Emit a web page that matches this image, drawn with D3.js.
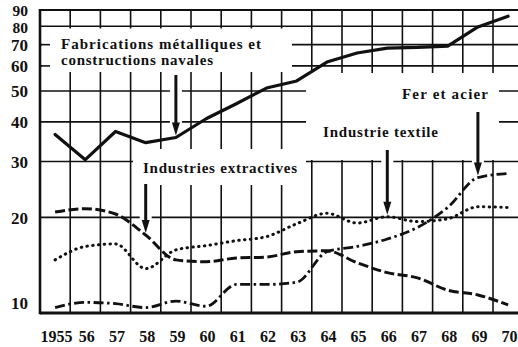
<!DOCTYPE html>
<html>
<head>
<meta charset="utf-8">
<script src="https://cdn.jsdelivr.net/npm/d3@7"></script>
<style>
  html, body { margin: 0; padding: 0; background: #fff; }
  svg { display: block; }
  text { font-family: "Liberation Serif", "DejaVu Serif", serif; font-weight: bold; fill: #111; }
</style>
</head>
<body>
<svg id="chart" width="518" height="347"></svg>
<script>
// Indices de production par branche, 1955-1970 (échelle logarithmique)
const years = d3.range(1955, 1971);
const yearLabels = ["1955", "56", "57", "58", "59", "60", "61", "62", "63", "64", "65", "66", "67", "68", "69", "70"];
const yTicks = [10, 20, 30, 40, 50, 60, 70, 80, 90];

const fabrications = [36.5, 30.4, 37.3, 34.4, 35.7, 40.9, 45.6, 51.1, 53.8, 61.7, 65.9, 68.3, 68.6, 69.3, 79.6, 86.0];
const extractives  = [20.8, 21.3, 20.5, 17.6, 14.7, 14.5, 14.9, 15.0, 15.6, 15.7, 14.4, 13.4, 12.9, 11.8, 11.4, 10.6];
const textile      = [14.7, 16.2, 16.5, 13.8, 15.8, 16.3, 16.9, 17.4, 19.1, 20.6, 19.2, 20.1, 19.4, 19.8, 21.6, 21.5];
const ferAcier     = [10.4, 10.8, 10.7, 10.4, 10.9, 10.5, 12.3, 12.3, 12.5, 15.6, 16.2, 17.1, 18.6, 21.5, 26.7, 27.5];

const svg = d3.select("#chart");
const W = 518;
const plotLeft = 40, plotRight = 523.2, plotTop = 10, plotBottom = 313;

const x = d3.scaleBand().domain(years).range([plotLeft, plotRight]).padding(0);
const cx = yr => x(yr) + x.bandwidth() / 2;
const y = d3.scaleLog().domain([10, 90]).range([plotBottom, plotTop]);

// ---- grid ----
const grid = svg.append("g").attr("stroke", "#111").attr("stroke-width", 1.6);
grid.selectAll("line.v").data(years.slice(1)).join("line")
  .attr("class", "v")
  .attr("x1", d => x(d)).attr("x2", d => x(d))
  .attr("y1", y(90)).attr("y2", y(10));
grid.selectAll("line.h").data(yTicks.filter(v => v > 10 && v < 90)).join("line")
  .attr("class", "h")
  .attr("x1", plotLeft).attr("x2", W)
  .attr("y1", d => y(d)).attr("y2", d => y(d));

// blank areas of the grid that hold the annotations
const blanks = [
  { x0: 42, x1: 292, y0: 28.5, y1: 72 },
  { x0: 306, x1: 499, y0: 73, y1: 160 },
  { x0: 133, x1: 306, y0: 149, y1: 185 }
];
svg.append("g").selectAll("rect").data(blanks).join("rect")
  .attr("x", d => d.x0).attr("y", d => d.y0)
  .attr("width", d => d.x1 - d.x0).attr("height", d => d.y1 - d.y0)
  .attr("fill", "#fff");

// arrows pointing from each label to its curve
const arrows = [
  { values: fabrications, year: 1959, from: 75 },
  { values: extractives, year: 1958, from: 184 },
  { values: textile, year: 1966, from: 150 },
  { values: ferAcier, year: 1969, from: 112 }
].map(a => ({ ...a, ax: cx(a.year), tip: y(a.values[years.indexOf(a.year)]) - 2 }));

// white gap in the grid around each arrow shaft
svg.append("g").selectAll("rect").data(arrows).join("rect")
  .attr("x", d => d.ax - 6).attr("y", d => d.from)
  .attr("width", 12).attr("height", d => d.tip - d.from)
  .attr("fill", "#fff");

// short ticks for 60 and 70 on the axis
svg.append("g").attr("stroke", "#111").attr("stroke-width", 1.6)
  .selectAll("line").data([60, 70]).join("line")
  .attr("x1", plotLeft).attr("x2", plotLeft + 10)
  .attr("y1", d => y(d)).attr("y2", d => y(d));

// frame: left, top, bottom
const frame = svg.append("g").attr("stroke", "#111").attr("fill", "none");
frame.append("line").attr("x1", plotLeft).attr("x2", plotLeft).attr("y1", y(90) - 1).attr("y2", y(10) + 1.2).attr("stroke-width", 2.6);
frame.append("line").attr("x1", plotLeft).attr("x2", W).attr("y1", y(90)).attr("y2", y(90)).attr("stroke-width", 2.2);
frame.append("line").attr("x1", plotLeft).attr("x2", W).attr("y1", y(10)).attr("y2", y(10)).attr("stroke-width", 2.8);

// ---- series ----
const mkLine = curve => d3.line().x((d, i) => cx(years[i])).y(d => y(d)).curve(curve);
const series = [
  { values: fabrications, curve: d3.curveLinear, width: 3.2, dash: null, cap: "round" },
  { values: extractives, curve: d3.curveMonotoneX, width: 3, dash: "10,3.5", cap: "butt" },
  { values: textile, curve: d3.curveMonotoneX, width: 3, dash: "0.5,5.3", cap: "round" },
  { values: ferAcier, curve: d3.curveMonotoneX, width: 2.8, dash: "10,3.5,2.5,3.5", cap: "butt" }
];
svg.append("g").selectAll("path").data(series).join("path")
  .attr("d", d => mkLine(d.curve)(d.values))
  .attr("fill", "none").attr("stroke", "#111")
  .attr("stroke-width", d => d.width)
  .attr("stroke-linejoin", "round")
  .attr("stroke-linecap", d => d.cap)
  .attr("stroke-dasharray", d => d.dash);

// arrow shafts and heads
const ag = svg.append("g");
ag.selectAll("line").data(arrows).join("line")
  .attr("x1", d => d.ax).attr("x2", d => d.ax)
  .attr("y1", d => d.from).attr("y2", d => d.tip - 10)
  .attr("stroke", "#111").attr("stroke-width", 3);
ag.selectAll("path").data(arrows).join("path")
  .attr("d", d => `M${d.ax - 4},${d.tip - 13}L${d.ax + 4},${d.tip - 13}L${d.ax},${d.tip}Z`)
  .attr("fill", "#111");

// ---- annotations ----
const notes = [
  { t: "Fabrications métalliques et", x: 61, y: 49, w: 200 },
  { t: "constructions navales", x: 61, y: 65, w: 152 },
  { t: "Industries extractives", x: 143, y: 173, w: 154 },
  { t: "Industrie textile", x: 323, y: 137, w: 115 },
  { t: "Fer et acier", x: 402, y: 99, w: 86 }
];
svg.append("g").selectAll("text").data(notes).join("text")
  .attr("x", d => d.x).attr("y", d => d.y)
  .attr("font-size", 15)
  .attr("textLength", d => d.w).attr("lengthAdjust", "spacing")
  .text(d => d.t);

// ---- axis labels ----
// 10 sits just above the base line; 90 and 80 are nudged apart slightly
const labelShift = v => v === 10 ? -10 : v === 90 ? 0.5 : v === 80 ? 1 : 0;
svg.append("g").selectAll("text").data(yTicks).join("text")
  .attr("x", 28)
  .attr("y", d => y(d) + labelShift(d))
  .attr("dy", "0.36em")
  .attr("text-anchor", "end")
  .attr("font-size", d => d >= 80 ? 15.5 : 17)
  .text(d => d);

svg.append("g").selectAll("text").data(years).join("text")
  .attr("x", d => cx(d) + 1.5)
  .attr("y", 342)
  .attr("text-anchor", "middle")
  .attr("font-size", 16)
  .text((d, i) => yearLabels[i]);
</script>
</body>
</html>
